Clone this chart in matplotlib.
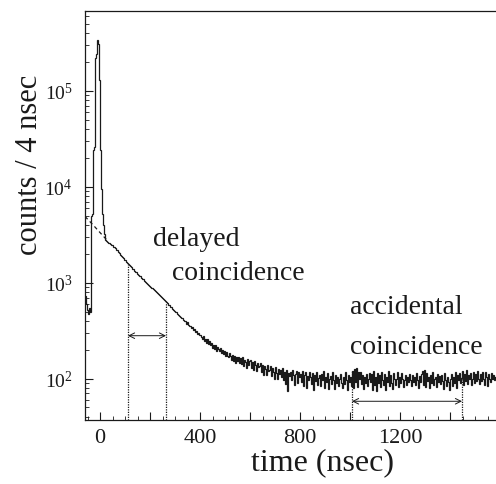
import numpy as np
import matplotlib
matplotlib.use("Agg")
import matplotlib.pyplot as plt
from matplotlib.ticker import MultipleLocator, FuncFormatter, LogLocator, LogFormatterMathtext, NullFormatter

plt.rcParams['font.family'] = ['Liberation Serif', 'DejaVu Serif']
plt.rcParams['mathtext.fontset'] = 'stix'

# ---------------- data ----------------
bin_width = 4          # ns
t_start = -60          # ns, left edge of first bin

counts_prompt = [720, 600, 520, 470, 540, 500,
                 5000, 5200, 24000, 26000, 220000, 240000, 340000, 310000, 130000,
                 24000, 9500, 5200, 4000, 3200, 2800, 2720, 2680, 2620, 2580]

counts_decay = [
    2550, 2490, 2460, 2380, 2330, 2290, 2200, 2170, 2100, 2050,
    1930, 1880, 1850, 1790, 1740, 1720, 1650, 1620, 1580, 1520,
    1480, 1450, 1400, 1390, 1330, 1300, 1280, 1230, 1210, 1170,
    1160, 1130, 1090, 1080, 1040, 1020, 1000, 970, 950, 925,
    910, 890, 870, 850, 830, 815, 790, 780, 760, 735,
    720, 710, 690, 670, 660, 640, 630, 610, 590, 580,
    560, 555, 530, 525, 510, 500, 490, 470, 465, 450,
    440, 425, 430, 405, 400, 395, 370, 385, 360, 355,
    356, 340, 345, 320, 330, 305, 310, 295, 300, 285,
    284, 270, 258, 276, 246, 258, 236, 256, 230, 244,
    226, 236, 210, 226, 204, 222, 196, 216, 202, 196,
    208, 186, 200, 180, 196, 170, 190, 174, 168, 184,
    172, 156, 178, 154, 170, 146, 168, 154, 166, 146,
    162, 142, 168, 134, 158, 150, 130, 160, 140, 154,
    156, 130, 148, 124, 152, 138, 120, 146, 132, 136,
    144, 116, 138, 110, 136, 126, 108, 140, 120, 124,
    134, 106, 128, 118, 100, 132, 114, 98, 126, 112,
    122, 104, 128, 96, 118, 88, 124, 74, 114, 106,
]

counts_flat = [
    118, 96, 124, 108, 86, 112, 120, 90, 116, 104,
    112, 92, 120, 84, 110, 118, 80, 106, 96, 116,
    104, 88, 114, 76, 108, 94, 118, 86, 102, 110,
    84, 112, 96, 120, 80, 104, 92, 114, 78, 100,
    106, 88, 116, 96, 78, 110, 90, 104, 84, 100,
    112, 90, 80, 104, 88, 116, 96, 76, 108, 92,
    104, 84, 120, 80, 126, 92, 128, 82, 118, 100,
    116, 88, 110, 78, 104, 90, 112, 84, 98, 114,
    92, 112, 76, 120, 86, 104, 74, 114, 90, 108,
    82, 118, 96, 86, 112, 76, 104, 92, 120, 84,
    108, 90, 78, 114, 100, 86, 98, 116, 82, 104,
    90, 114, 100, 82, 96, 110, 86, 104, 92, 112,
    96, 84, 110, 92, 104, 86, 114, 96, 80, 106,
    92, 112, 120, 86, 122, 82, 114, 94, 104, 80,
    108, 90, 118, 86, 98, 104, 82, 112, 92, 106,
    88, 110, 94, 78, 114, 96, 84, 104, 92, 76,
    98, 112, 84, 104, 90, 118, 80, 108, 96, 114,
    90, 102, 120, 86, 112, 94, 122, 88, 108, 100,
    114, 86, 100, 118, 90, 112, 94, 120, 98, 88,
    112, 94, 118, 100, 86, 116, 104, 84, 112, 98,
    92, 114, 100, 110, 96, 104,
]

fit_t = [-60, -30, 0, 30]
fit_v = [4900, 4060, 3330, 2740]

delayed_window = [112, 264]
delayed_arrow_y = 280
accidental_window = [1008, 1448]
accidental_arrow_y = 58

x_ticks_labeled = [0, 400, 800, 1200]
xlim = (-60, 1584)
ylim = (37, 6.8e5)

# ---------------- plot ----------------
counts = np.array(counts_prompt + counts_decay + counts_flat, dtype=float)
edges = t_start + bin_width * np.arange(len(counts) + 1)

fig = plt.figure(figsize=(4.96, 4.85), dpi=100)
ax = fig.add_axes([85 / 496, 1 - 421 / 485, 1 - 85 / 496, (421 - 12) / 485])

col = '#1a1a1a'
ax.stairs(counts, edges, baseline=None, color=col, lw=0.9)
ax.plot(fit_t, fit_v, color=col, lw=0.9, ls=(0, (3, 2.5)))

ax.set_yscale('log')
ax.set_xlim(*xlim)
ax.set_ylim(*ylim)

def count_at(t):
    i = int((t - t_start) // bin_width)
    return counts[i]

for win, ay in [(delayed_window, delayed_arrow_y), (accidental_window, accidental_arrow_y)]:
    for t in win:
        ax.vlines(t, ylim[0], count_at(t), colors=col, lw=0.9, linestyles=(0, (1, 1)))
    ax.annotate('', xy=(win[1], ay), xytext=(win[0], ay),
                arrowprops=dict(arrowstyle='<->', lw=0.7, color=col,
                                shrinkA=0, shrinkB=0, mutation_scale=10))

tf = 20
def pix_text(px, py, s):
    fig.text(px / 496, 1 - py / 485, s, fontsize=tf, ha='left', va='center', color=col)
pix_text(153, 240, 'delayed')
pix_text(172, 274, 'coincidence')
pix_text(350, 308, 'accidental')
pix_text(350, 347, 'coincidence')

ax.set_xlabel('time (nsec)', fontsize=23, color=col)
ax.xaxis.set_label_coords(0.577, -0.103)
ax.xaxis.label.set_va('center')
ax.set_ylabel('counts / 4 nsec', fontsize=22, color=col)
ax.yaxis.set_label_coords(-0.136, 0.626)
ax.yaxis.label.set_va('center')

ax.xaxis.set_major_locator(MultipleLocator(200))
ax.xaxis.set_major_formatter(FuncFormatter(lambda v, p: f'{int(v)}' if int(round(v)) in x_ticks_labeled else ''))
ax.xaxis.set_minor_locator(MultipleLocator(50))
ax.yaxis.set_major_locator(LogLocator(base=10, numticks=10))
ax.yaxis.set_major_formatter(LogFormatterMathtext())
ax.yaxis.set_minor_locator(LogLocator(base=10, subs=np.arange(2, 10), numticks=20))
ax.yaxis.set_minor_formatter(NullFormatter())

ax.tick_params(axis='both', which='major', direction='in', length=6, width=0.8, colors=col)
ax.tick_params(axis='both', which='minor', direction='in', length=3, width=0.6, colors=col)
ax.tick_params(axis='x', which='major', labelsize=16, pad=6)
ax.tick_params(axis='y', which='major', labelsize=14, pad=9)
ax.tick_params(top=False, right=False, which='both')

for s in ['left', 'bottom', 'top']:
    ax.spines[s].set_color(col)
    ax.spines[s].set_linewidth(0.9)
ax.spines['right'].set_visible(False)

fig.savefig('out.png', dpi=100)
